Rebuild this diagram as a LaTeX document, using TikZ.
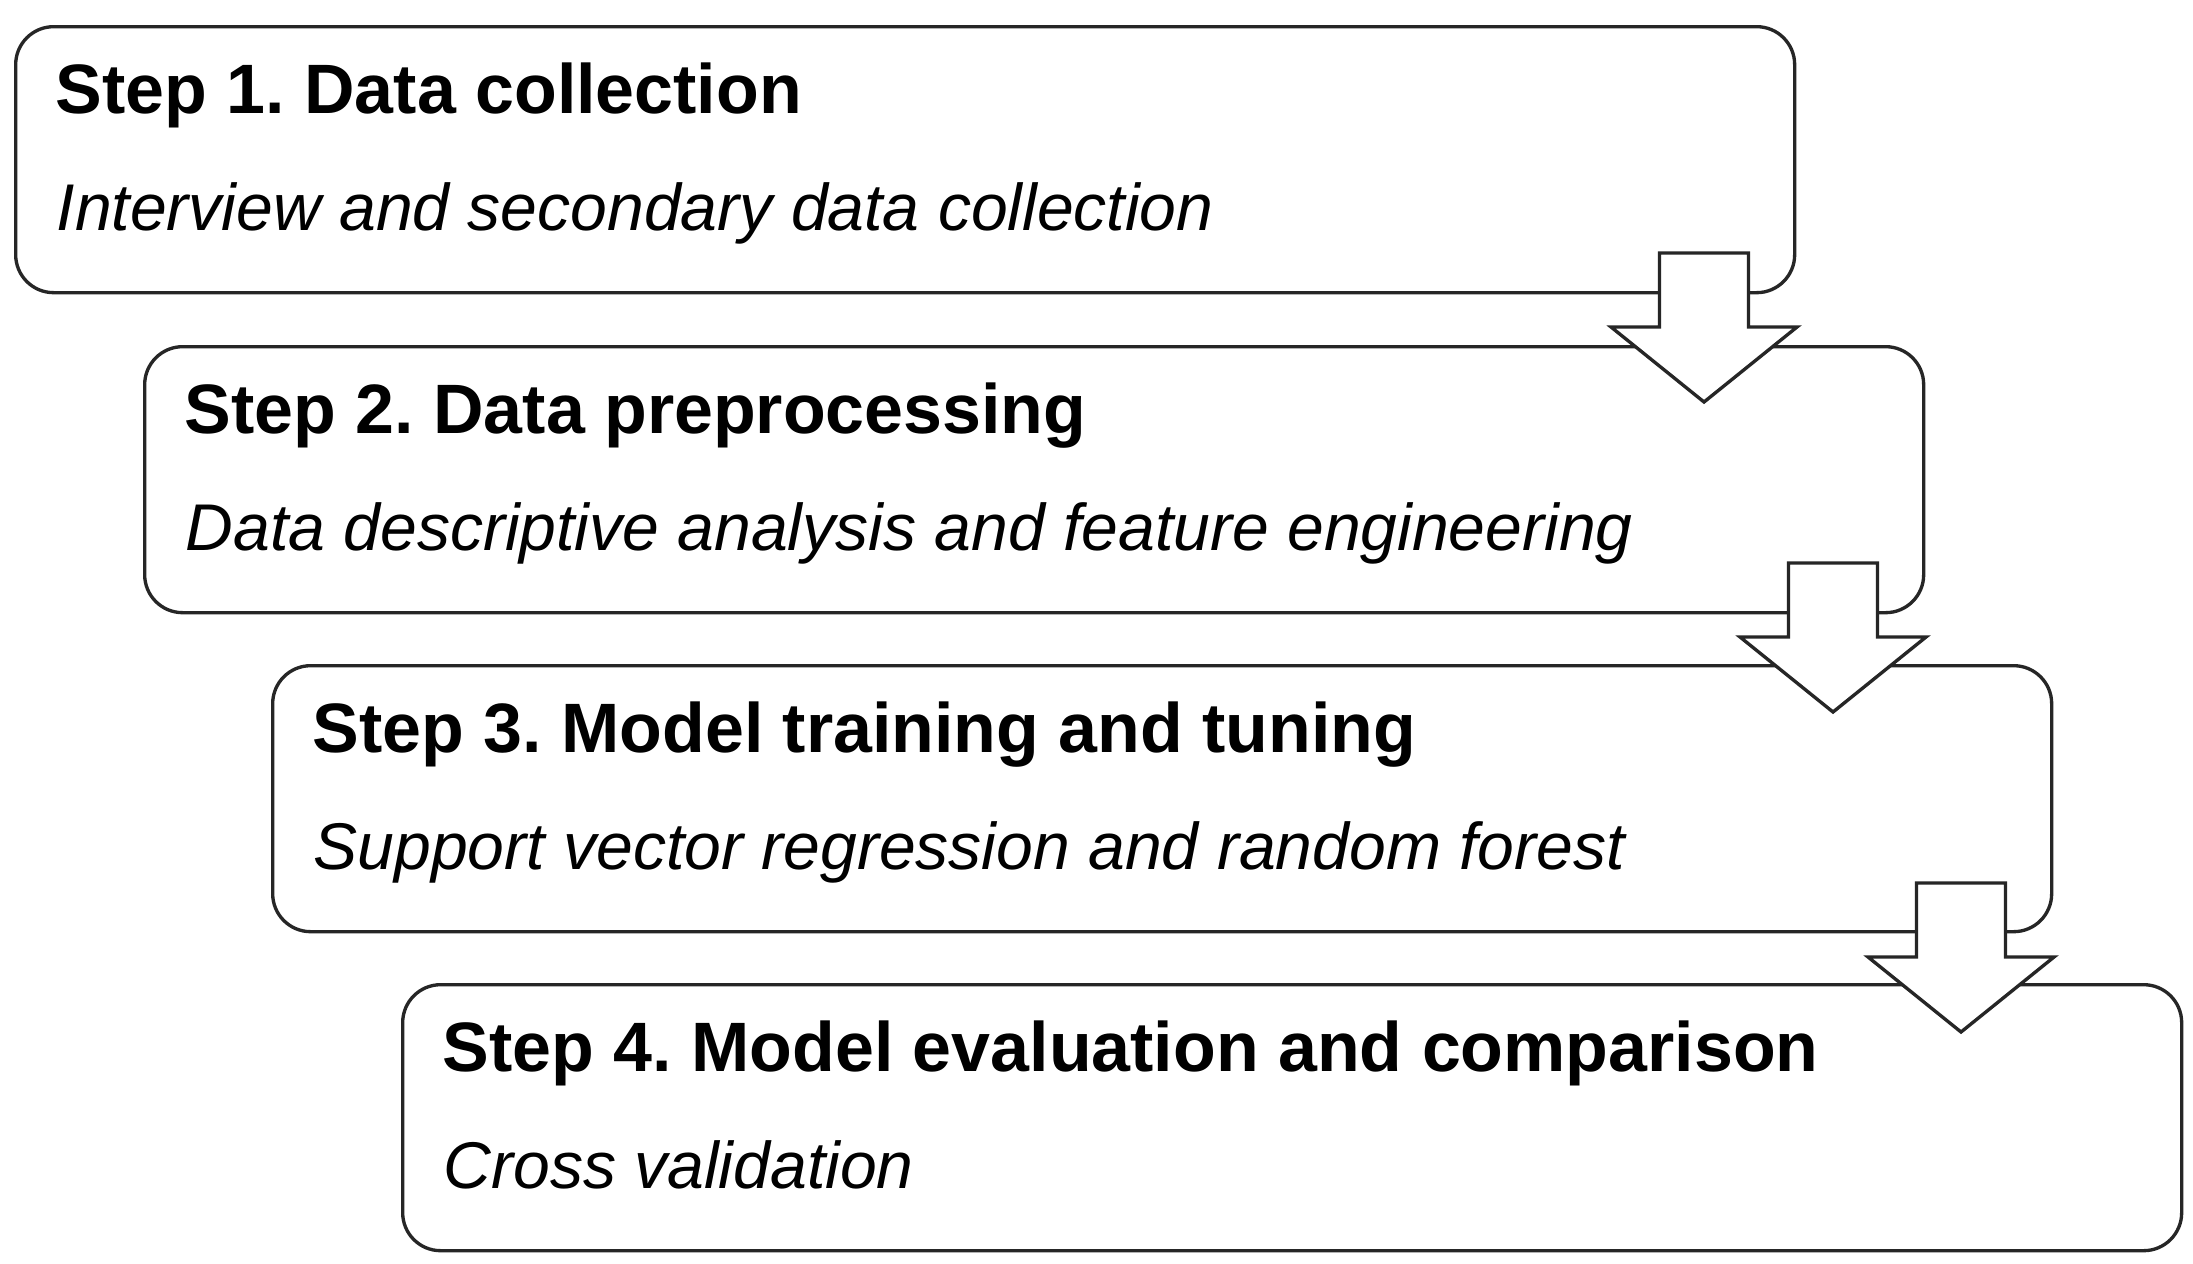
\documentclass[tikz,border=0pt]{standalone}
\usepackage{fontspec}
\setmainfont{Liberation Sans}
\frenchspacing
\begin{document}
\begin{tikzpicture}[x=0.1mm,y=-0.1mm,
  stepbox/.style={draw=black!85, line width=0.95pt, fill=white, rounded corners=3.8mm,
    minimum width=177.9mm, minimum height=26.6mm, inner sep=0pt, anchor=north west},
  titletext/.style={font=\fontsize{19.9}{24}\selectfont\bfseries, anchor=base west, inner sep=0pt},
  subtext/.style={font=\fontsize{18.8}{22}\selectfont\itshape, anchor=base west, inner sep=0pt},
  flowarrow/.style={draw=black!85, line width=0.95pt, fill=white, line join=miter}]
\useasboundingbox (0,0) rectangle (2193,1263);
\fill[white] (0,0) rectangle (2193,1263);

\node[stepbox] (b1) at (14,25) {};
\node[stepbox] (b2) at (143,345) {};
\node[stepbox] (b3) at (271,664) {};
\node[stepbox] (b4) at (401,983) {};

\node[titletext] (t1) at ([shift={(41,88)}]b1.north west) {Step 1. Data collection};
\node[subtext] (s1) at ([shift={(42,205)}]b1.north west) {Interview and secondary data collection};
\node[titletext] (t2) at ([shift={(41,88)}]b2.north west) {Step 2. Data preprocessing};
\node[subtext] (s2) at ([shift={(42,205)}]b2.north west) {Data descriptive analysis and feature engineering};
\node[titletext] (t3) at ([shift={(41,88)}]b3.north west) {Step 3. Model training and tuning};
\node[subtext] (s3) at ([shift={(42,205)}]b3.north west) {Support vector regression and random forest};
\node[titletext] (t4) at ([shift={(41,88)}]b4.north west) {Step 4. Model evaluation and comparison};
\node[subtext] (s4) at ([shift={(42,205)}]b4.north west) {Cross validation};

\coordinate (a1) at (1704,253);
\coordinate (a2) at (1833,563);
\coordinate (a3) at (1961,883);
\foreach \a in {a1,a2,a3}{
  \draw[flowarrow] (\a) ++(-44.5,0) -- ++(89,0) -- ++(0,74) -- ++(48.5,0)
    -- ++(-93,75) -- ++(-93,-75) -- ++(48.5,0) -- cycle;
}
\end{tikzpicture}
\end{document}
